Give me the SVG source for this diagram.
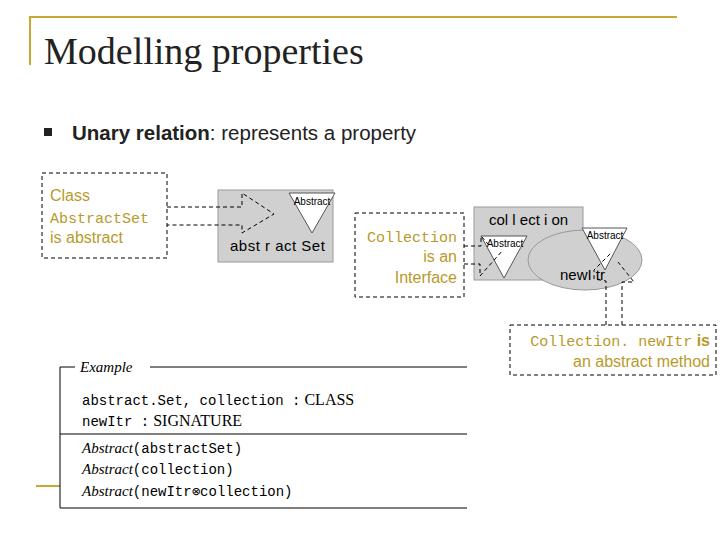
<svg xmlns="http://www.w3.org/2000/svg" width="720" height="540" viewBox="0 0 720 540">
<style>
.gold{fill:#b89a2a}
.dash{fill:none;stroke:#000;stroke-width:1;stroke-dasharray:4,3}
.sans{font-family:"Liberation Sans",Arial,sans-serif}
.mono{font-family:"Liberation Mono","DejaVu Sans Mono",monospace}
.serif{font-family:"Liberation Serif",serif}
.gray{fill:#d0d0d0;stroke:#999}
.tri{fill:#fff;stroke:#555}
</style>
<rect width="720" height="540" fill="#fff"/>
<g id="title">
<path d="M30,65 V17 H677" fill="none" stroke="#c8a830" stroke-width="2"/>
<text x="44" y="64" class="serif" font-size="38" fill="#222">Modelling properties</text>
<rect x="44" y="128" width="8" height="8" fill="#222"/>
<text x="72" y="140" class="sans" font-size="20.5" fill="#222"><tspan font-weight="bold">Unary relation</tspan>: represents a property</text>
</g>
<g id="callout-abstractset">
<rect x="42" y="173" width="125" height="85" class="dash"/>
<text x="50" y="201" class="sans gold" font-size="16">Class</text>
<text x="50" y="223" class="mono gold" font-size="15">AbstractSet</text>
<text x="50" y="243" class="sans gold" font-size="16">is abstract</text>
</g>
<g id="abstractset">
<rect x="218" y="190" width="115" height="72" class="gray"/>
<polygon points="289,193 335,193 312,233" class="tri"/>
<text x="312" y="205" text-anchor="middle" class="sans" font-size="10">Abstract</text>
<text x="230" y="251" class="sans" font-size="15" letter-spacing="0.5">abst r act Set</text>
</g>
<g id="callout-collection">
<rect x="355" y="213" width="109" height="84" class="dash"/>
<text x="457" y="242" text-anchor="end" class="mono gold" font-size="15">Collection</text>
<text x="457" y="262" text-anchor="end" class="sans gold" font-size="16">is an</text>
<text x="457" y="283" text-anchor="end" class="sans gold" font-size="16">Interface</text>
</g>
<g id="collection">
<rect x="474" y="207" width="109" height="73" class="gray"/>
<text x="489" y="225" class="sans" font-size="15">col l ect i on</text>
<polygon points="481,236 527,236 504,278" class="tri"/>
<text x="505" y="247" text-anchor="middle" class="sans" font-size="10">Abstract</text>
</g>
<g id="newitr">
<ellipse cx="585" cy="260" rx="57" ry="30" fill="#d0d0d0" stroke="#999"/>
<polygon points="582,228 627,228 605,270" class="tri"/>
<text x="605" y="239" text-anchor="middle" class="sans" font-size="10">Abstract</text>
<text x="560" y="280" class="sans" font-size="15">newI tr</text>
</g>
<g id="callout-newitr">
<rect x="510" y="325" width="206" height="50" class="dash"/>
<text x="710" y="346" text-anchor="end" class="gold" font-size="15"><tspan class="mono">Collection. newItr</tspan><tspan class="sans" font-weight="bold" font-size="16"> is</tspan></text>
<text x="710" y="367" text-anchor="end" class="sans gold" font-size="16">an abstract method</text>
</g>
<g id="connectors">
<polyline points="167,207 242,207 242,193 274,214 242,233 242,225 167,225" class="dash"/>
<polyline points="464,246 481,246 481,236 488,244" class="dash"/>
<polyline points="464,264 480,264 480,276 503,250" class="dash"/>
<polyline points="606,325 606,281 594,279 594,270 612,252" class="dash"/>
<polyline points="622,325 622,282 634,282 618,262" class="dash"/>
</g>
<g id="example">
<path d="M36,486 H60" stroke="#c8a830" stroke-width="2"/>
<path d="M75,367 H60 V508 H467 M150,367 H467 M60,434 H467" fill="none" stroke="#000"/>
<text x="80" y="372" class="serif" font-size="15" font-style="italic">Example</text>
<text x="82" y="405" font-size="14"><tspan class="mono">abstract.Set, collection :</tspan><tspan class="serif" font-size="16"> CLASS</tspan></text>
<text x="82" y="426" font-size="14"><tspan class="mono">newItr :</tspan><tspan class="serif" font-size="16"> SIGNATURE</tspan></text>
<text x="82" y="453" font-size="14"><tspan class="serif" font-style="italic" font-size="15">Abstract</tspan><tspan class="mono">(abstractSet)</tspan></text>
<text x="82" y="474" font-size="14"><tspan class="serif" font-style="italic" font-size="15">Abstract</tspan><tspan class="mono">(collection)</tspan></text>
<text x="82" y="496" font-size="14"><tspan class="serif" font-style="italic" font-size="15">Abstract</tspan><tspan class="mono">(newItr⊗collection)</tspan></text>
</g>
</svg>
